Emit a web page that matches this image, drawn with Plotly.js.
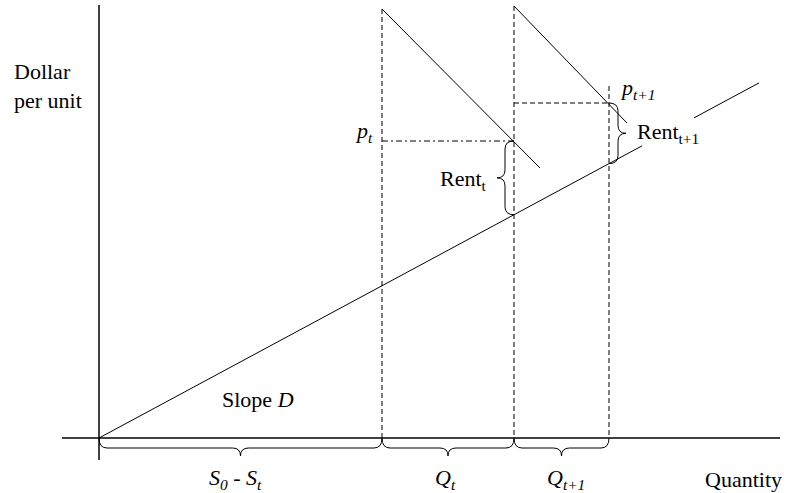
<!DOCTYPE html>
<html>
<head>
<meta charset="utf-8">
<script src="https://cdn.plot.ly/plotly-3.0.1.min.js"></script>
<style>
  html, body { margin: 0; padding: 0; background: #fff; }
  #plotArea { width: 806px; height: 493px; }
</style>
</head>
<body>
<div id="plotArea"></div>
<script>
// quantities along the axis (S0 - St, then Qt, then Qt+1)
var stockUsed = 283;
var qWidths = [132, 95];
var slopeD = 0.538;

// prices p_t and p_t+1
var prices = [297, 335];

// the two demand lines (quantity, price)
var demandTq = [283, 441];
var demandTp = [429, 270];
var demandT1q = [415, 528];
var demandT1p = [432, 315];

// supply line drawn with a gap behind the Rent_t+1 label
var supplyQ = [0, 543, null, 595, 660];

// axis extents
var axisQ = [-37, 681];
var axisP = [-22, 433];

// tops of the dashed verticals
var dashTops = [429, 432, 352];

var qT = stockUsed + qWidths[0];
var qT1 = qT + qWidths[1];

var font = {family: '"Liberation Serif", "Times New Roman", serif', size: 22, color: '#000'};

var supplyP = supplyQ.map(function (q) { return q === null ? null : slopeD * q; });

var traces = [];
function seg(x, y, width, dash) {
  traces.push({x: x, y: y, mode: 'lines', type: 'scatter', hoverinfo: 'skip',
    line: {color: '#000', width: width, dash: dash || 'solid'}});
}

// axes
seg([0, 0], axisP, 1.5);
seg(axisQ, [0, 0], 1.5);

// supply and demand
seg(supplyQ, supplyP, 1);
seg(demandTq, demandTp, 1);
seg(demandT1q, demandT1p, 1);

// dashed guides
var guideQ = [stockUsed, qT, qT1];
guideQ.forEach(function (q, i) { seg([q, q], [dashTops[i], 0], 1, '5px,3px'); });
seg([stockUsed, qT], [prices[0], prices[0]], 1, '6px,3px,2px,3px');
seg([qT, qT1], [prices[1], prices[1]], 1, '5px,3px');

// braces
function hBrace(x0, x1) {
  var m = (x0 + x1) / 2, h1 = -10, h2 = -18, r = 8;
  return 'M' + x0 + ',0 Q' + x0 + ',' + h1 + ' ' + (x0 + r) + ',' + h1 +
    ' L' + (m - r) + ',' + h1 + ' Q' + m + ',' + h1 + ' ' + m + ',' + h2 +
    ' Q' + m + ',' + h1 + ' ' + (m + r) + ',' + h1 +
    ' L' + (x1 - r) + ',' + h1 + ' Q' + x1 + ',' + h1 + ' ' + x1 + ',0';
}
function vBrace(x0, s, ylo, yhi) {
  var b = x0 + s * 9, t = x0 + s * 17, ym = (ylo + yhi) / 2, r = 8;
  return 'M' + x0 + ',' + yhi + ' Q' + b + ',' + yhi + ' ' + b + ',' + (yhi - r) +
    ' L' + b + ',' + (ym + r) + ' Q' + b + ',' + ym + ' ' + t + ',' + ym +
    ' Q' + b + ',' + ym + ' ' + b + ',' + (ym - r) +
    ' L' + b + ',' + (ylo + r) + ' Q' + b + ',' + ylo + ' ' + x0 + ',' + ylo;
}
var braceLine = {color: '#000', width: 1};
var shapes = [
  {type: 'path', xref: 'x', yref: 'y', path: hBrace(0, stockUsed), line: braceLine},
  {type: 'path', xref: 'x', yref: 'y', path: hBrace(stockUsed, qT), line: braceLine},
  {type: 'path', xref: 'x', yref: 'y', path: hBrace(qT, qT1), line: braceLine},
  {type: 'path', xref: 'x', yref: 'y', path: vBrace(qT, -1, slopeD * qT, prices[0]), line: braceLine},
  {type: 'path', xref: 'x', yref: 'y', path: vBrace(qT1, 1, slopeD * qT1, prices[1]), line: braceLine}
];

function label(text, x, y, xanchor) {
  return {text: text, x: x, y: y, xref: 'x', yref: 'y', showarrow: false,
    xanchor: xanchor, yanchor: 'middle', align: 'left', font: font};
}
var annotations = [
  label('Dollar<br>per unit', -87, 352, 'left'),
  label('<i>p<sub>t</sub></i>', stockUsed - 7, 306, 'right'),
  label('<i>p<sub>t+1</sub></i>', qT1 + 9, 349, 'left'),
  label('Rent<sub>t</sub>', 339, 258, 'left'),
  label('Rent<sub>t+1</sub>', 536, 305, 'left'),
  label('Slope <i>D</i>', 121, 39, 'left'),
  label('<i>S<sub>0</sub> - S<sub>t</sub></i>', stockUsed / 2 - 5, -41, 'center'),
  label('<i>Q<sub>t</sub></i>', (stockUsed + qT) / 2 - 3, -41, 'center'),
  label('<i>Q<sub>t+1</sub></i>', (qT + qT1) / 2 + 4, -41, 'center'),
  label('Quantity', 604, -41, 'left')
];

var layout = {
  width: 806, height: 493,
  margin: {l: 0, r: 0, t: 0, b: 0},
  paper_bgcolor: '#fff', plot_bgcolor: '#fff',
  showlegend: false,
  xaxis: {range: [-99, 707], visible: false, fixedrange: true},
  yaxis: {range: [-55, 438], visible: false, fixedrange: true},
  shapes: shapes,
  annotations: annotations
};

Plotly.newPlot('plotArea', traces, layout, {staticPlot: true});
</script>
</body>
</html>
